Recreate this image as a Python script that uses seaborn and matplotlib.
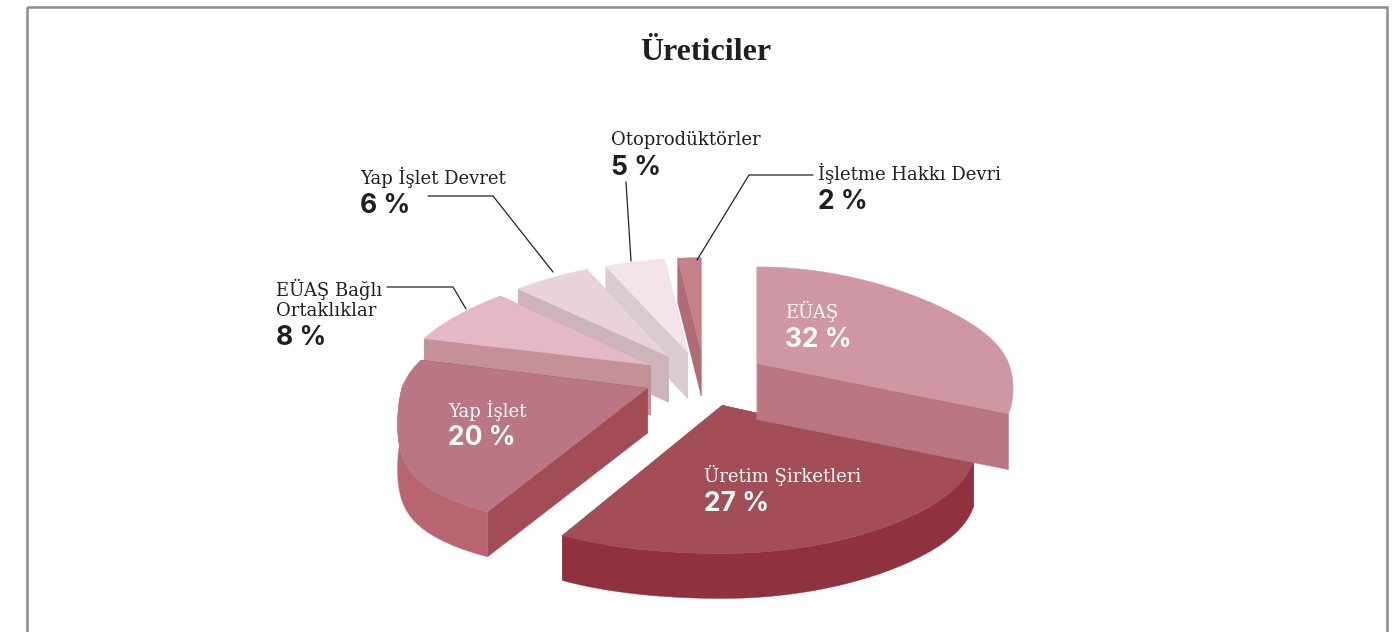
import numpy as np
import matplotlib
matplotlib.use("Agg")
import matplotlib.pyplot as plt
import seaborn as sns

# ---- data ----
categories = ["EÜAŞ", "Üretim Şirketleri", "Yap İşlet", "EÜAŞ Bağlı\nOrtaklıklar",
              "Yap İşlet Devret", "Otoprodüktörler", "İşletme Hakkı Devri"]
values = [32, 27, 20, 8, 6, 5, 2]

# ---- style ----
top_colors = ["#CE97A3", "#A34D56", "#BA7684", "#E5B8C6", "#E8D4D8", "#F4E3EA", "#C48189"]
radial_colors = ["#BB7684", "#A24D56", "#A24D56", "#C59199", "#CDB4BB", "#D9CBD1", "#B06B75"]
arc_colors = ["#BB7684", "#8F323D", "#B9656F", "#C59199", "#CDB4BB", "#D9CBD1", "#B06B75"]
wall_heights = [56, 45, 45, 50, 46, 46, 44]
explode = 0.24
CX, CY, A, B = 705.0, 378.0, 252.0, 114.0
A_RIGHT = 258.0
OFFSET_X = 258.0

sns.set_theme(style="white")
plt.rcParams["font.family"] = ["DejaVu Serif"]

fig = plt.figure(figsize=(13.92, 6.32), dpi=100)
ax = fig.add_axes([0, 0, 1, 1])
ax.set_xlim(0, 1392)
ax.set_ylim(632, 0)
ax.axis("off")

# angles of each slice come from the library's pie layout
helper = fig.add_axes([0, 0, 0.01, 0.01])
wedges, _ = helper.pie(values, startangle=90, counterclock=False)
spans = [(w.theta1, w.theta2) for w in wedges]
helper.remove()


def project(c, s, ou, ov):
    """Perspective-like mapping of a point on the tilted pie."""
    c, s = np.asarray(c, float), np.asarray(s, float)
    # horizontal: far points shrink, near points widen, softly capped at the sides
    wx = 1 + 0.26 * s + 0.09 * s ** 2
    fx = np.abs(c / wx)
    capped = -np.log(np.exp(-18 * fx) + np.exp(-18 * 1.03)) / 18
    capped = capped - (-np.log(1 + np.exp(-18 * 1.03)) / 18)
    dx = np.sign(c) * capped * np.where(c > 0, A_RIGHT, A)
    # vertical: the lower-left rim sits a little flatter and lower
    sv = np.where((c < 0) & (s < 0), s * (1 + 0.4 * (1 + s)), s)
    v = ov + sv
    wy = np.where(v > 0, 1 + 0.14 * v, 1 + 0.163 * v)
    return CX + OFFSET_X * ou + dx, CY - B * v / wy


ax.add_patch(plt.Rectangle((27, 7), 1360, 700, fill=False, ec="#8C8C8C", lw=1.8))


def poly(xs, ys, color, z):
    ax.fill(xs, ys, color=color, lw=0.3, zorder=z)


order = [6, 5, 4, 3, 2, 1, 0]
for z, i in enumerate(order):
    t1, t2 = spans[i]
    mid = np.radians((t1 + t2) / 2)
    ou, ov = explode * np.cos(mid), explode * np.sin(mid)
    th = np.radians(np.linspace(t1, t2, 200))
    ax_x, ax_y = project(np.cos(th), np.sin(th), ou, ov)
    ap_x, ap_y = project(0.0, 0.0, ou, ov)
    h = wall_heights[i]
    base = 10 + z * 4
    # radial walls, behind the outer wall
    for ex, ey in ((ax_x[0], ax_y[0]), (ax_x[-1], ax_y[-1])):
        poly([ap_x, ex, ex, ap_x], [ap_y, ey, ey + h, ap_y + h], radial_colors[i], base)
    # outer arc wall: only where it faces the viewer
    front = (np.sin(th) < 0.05) & (i in (1, 2))
    if front.any():
        fx, fy = ax_x[front], ax_y[front]
        poly(np.r_[fx, fx[::-1]], np.r_[fy, fy[::-1] + h], arc_colors[i], base + 1)
    # top face
    poly(np.r_[ap_x, ax_x], np.r_[ap_y, ax_y], top_colors[i], base + 2)

TXT = "#1F1F1F"
ax.text(706, 52, "Üreticiler", ha="center", va="center", fontsize=23, fontweight="bold",
        family="Liberation Serif", color=TXT, zorder=60)


def label(x, y, name, pct_y, val, color=TXT):
    ax.text(x, y, name, ha="left", va="center", fontsize=13, color=color, zorder=60, linespacing=1.15)
    ax.text(x, pct_y, f"{val} %", ha="left", va="center", fontsize=19, fontweight="bold",
            family="Inter", color=color, zorder=60)


label(785, 311, categories[0], 340, values[0], "white")
label(704, 475, categories[1], 504, values[1], "white")
label(448, 410, categories[2], 438, values[2], "white")
label(276, 299, categories[3], 338, values[3])
label(360, 177, categories[4], 206, values[4])
label(611, 140, categories[5], 168, values[5])
label(818, 173, categories[6], 202, values[6])

leaders = [([387, 453, 466], [287, 287, 309]),
           ([428, 493, 553], [196, 196, 272]),
           ([626, 631], [182, 261]),
           ([813, 749, 697], [175, 175, 260])]
for xs, ys in leaders:
    ax.plot(xs, ys, color="#222222", lw=0.9, zorder=55)

fig.savefig("out.png", dpi=100)
